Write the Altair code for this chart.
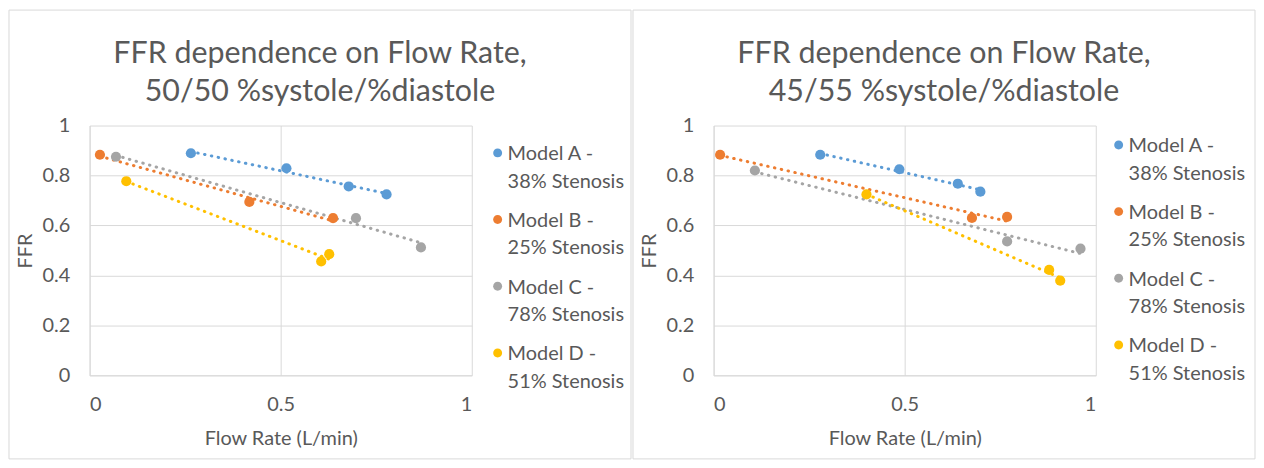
import altair as alt
import pandas as pd

# ---- data ----
models = ["Model A - 38% Stenosis", "Model B - 25% Stenosis",
          "Model C - 78% Stenosis", "Model D - 51% Stenosis"]
colors = ["#5B9BD5", "#ED7D31", "#A5A5A5", "#FFC000"]

# 50/50 %systole/%diastole
l_a_x = [0.265, 0.515, 0.678, 0.777]
l_a_y = [0.889, 0.829, 0.756, 0.724]
l_b_x = [0.027, 0.418, 0.637]
l_b_y = [0.883, 0.694, 0.629]
l_c_x = [0.069, 0.697, 0.867]
l_c_y = [0.875, 0.629, 0.512]
l_d_x = [0.096, 0.606, 0.627]
l_d_y = [0.777, 0.456, 0.485]

# 45/55 %systole/%diastole
r_a_x = [0.279, 0.486, 0.639, 0.698]
r_a_y = [0.883, 0.825, 0.767, 0.735]
r_b_x = [0.017, 0.676, 0.768]
r_b_y = [0.883, 0.630, 0.634]
r_c_x = [0.108, 0.768, 0.960]
r_c_y = [0.820, 0.536, 0.507]
r_d_x = [0.400, 0.878, 0.907]
r_d_y = [0.724, 0.422, 0.379]

x_ticks = [0, 0.5, 1]
y_ticks = [0, 0.2, 0.4, 0.6, 0.8, 1]

title_left = ["FFR dependence on Flow Rate,", "50/50 %systole/%diastole"]
title_right = ["FFR dependence on Flow Rate,", "45/55 %systole/%diastole"]


def build_df(groups):
    rows = []
    for name, xs, ys in groups:
        for xv, yv in zip(xs, ys):
            rows.append({"model": name, "flow": xv, "ffr": yv})
    return pd.DataFrame(rows)


df_left = build_df([(models[0], l_a_x, l_a_y), (models[1], l_b_x, l_b_y),
                    (models[2], l_c_x, l_c_y), (models[3], l_d_x, l_d_y)])
df_right = build_df([(models[0], r_a_x, r_a_y), (models[1], r_b_x, r_b_y),
                     (models[2], r_c_x, r_c_y), (models[3], r_d_x, r_d_y)])

TXT = "#595959"
GRID = "#d9d9d9"
FONT = "Lato"
# circle drawn a little below the entry anchor so it lines up with the first label line
SYMBOL = "M -0.45 0.85 A 0.45 0.45 0 1 0 0.45 0.85 A 0.45 0.45 0 1 0 -0.45 0.85 Z"


def panel(df, title, lx, ly):
    xenc = alt.X("flow:Q", scale=alt.Scale(domain=[0, 1], nice=False),
                 axis=alt.Axis(values=x_ticks, format="~g", title="Flow Rate (L/min)"))
    yenc = alt.Y("ffr:Q", scale=alt.Scale(domain=[0, 1], nice=False),
                 axis=alt.Axis(values=y_ticks, format="~g", title="FFR"))
    frame = alt.Chart(alt.Data(values=[{"k": 1}])).mark_rect(
        fillOpacity=0, stroke=GRID, strokeWidth=1
    ).encode(x=alt.value(-81), x2=alt.value(544), y=alt.value(-116), y2=alt.value(335))
    trends = []
    for name, col in zip(models, colors):
        trends.append(
            alt.Chart(df).transform_filter(alt.datum.model == name)
            .transform_regression("flow", "ffr")
            .mark_line(strokeDash=[0.5, 6.5], strokeCap="round", strokeWidth=3, color=col)
            .encode(x=xenc, y=yenc))
    pts = alt.Chart(df).mark_circle(size=105, opacity=1).encode(
        x=xenc, y=yenc,
        color=alt.Color("model:N", scale=alt.Scale(domain=models, range=colors),
                        legend=alt.Legend(
            title=None, orient="none", legendX=lx, legendY=ly,
            labelExpr="[substring(datum.label, 0, 9), substring(datum.label, 10)]",
            symbolType=SYMBOL, symbolSize=400, symbolStrokeWidth=0,
            labelFont=FONT, labelFontSize=20, labelColor=TXT,
            labelBaseline="top", labelOffset=0, labelLimit=300,
            rowPadding=9, padding=0)))
    return alt.layer(frame, *trends, pts).properties(
        width=384, height=251, title=alt.TitleParams(text=title))


left = panel(df_left, title_left, 400, 9)
right = panel(df_right, title_right, 397, 1)

chart = alt.hconcat(left, right, spacing=0).resolve_scale(
    color="independent").resolve_legend(color="independent").properties(
    padding=0, background="white"
).configure(style={"guide-label": {"lineHeight": 27.5}}).configure_view(
    stroke=None
).configure_axis(
    labelFont=FONT, labelFontSize=20, labelColor=TXT,
    titleFont=FONT, titleFontSize=20, titleColor=TXT, titleFontWeight="normal",
    gridColor=GRID, domainColor=GRID, ticks=False
).configure_axisX(labelPadding=19, titlePadding=15).configure_axisY(
    labelPadding=20, titlePadding=6
).configure_title(
    font=FONT, fontSize=30.5, color=TXT, fontWeight="normal", lineHeight=38,
    anchor="middle", frame="bounds", offset=-98
)

chart.save("out.html", embed_options={"renderer": "svg", "actions": False})
